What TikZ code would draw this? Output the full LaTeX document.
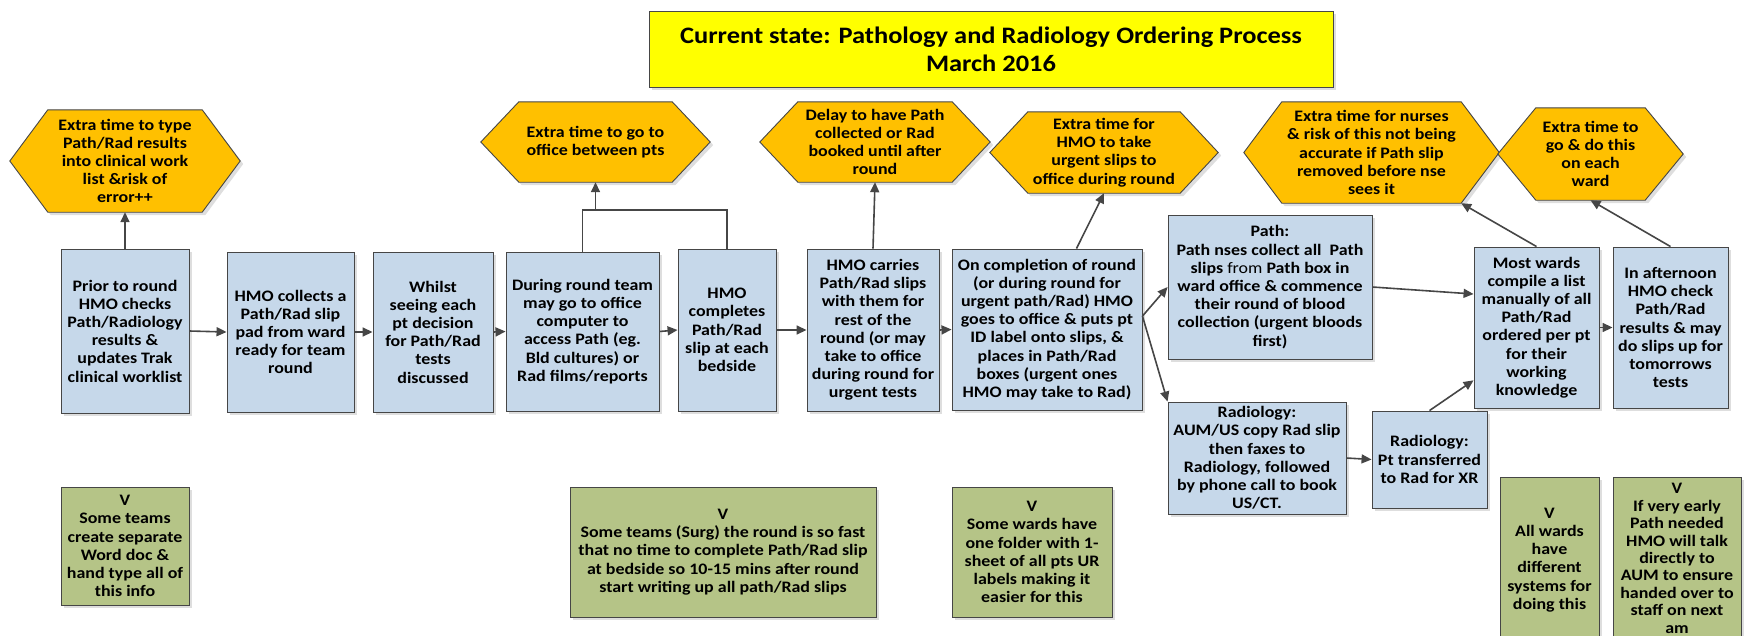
\documentclass[tikz,border=0pt]{standalone}
\usepackage{fontspec}
\setmainfont{Carlito}[FakeStretch=1.12]
\usetikzlibrary{arrows.meta, positioning, calc, shadows, backgrounds}
\definecolor{procblue}{RGB}{198,216,234}
\definecolor{hexorange}{RGB}{255,192,0}
\definecolor{noteolive}{RGB}{181,196,135}
\definecolor{titleyellow}{RGB}{255,255,0}
\definecolor{edgegray}{RGB}{70,70,70}
\tikzset{
    boxtext/.style={font=\fontsize{16}{18.2}\selectfont\bfseries, align=center, inner sep=2pt},
    softshadow/.style={drop shadow={shadow xshift=3pt, shadow yshift=-3pt, fill=black!13, opacity=1}},
    procbox/.style={boxtext, rectangle, draw=edgegray, line width=0.9pt, fill=procblue, softshadow},
    notebox/.style={procbox, fill=noteolive},
    hexbox/.style={boxtext, rectangle},
    hexline/.style={draw=edgegray, line width=0.9pt, fill=hexorange, softshadow},
    titlebox/.style={procbox, fill=titleyellow, font=\fontsize{23.6}{28}\selectfont\bfseries},
    flow/.style={-{Triangle[length=10pt, width=9pt]}, draw=edgegray, line width=1.6pt},
    joinline/.style={draw=edgegray, line width=1.6pt}
}

\begin{document}
\begin{tikzpicture}[x=1pt, y=-1pt]
    \useasboundingbox (0,0) rectangle (1746,635);
    \node[titlebox, minimum width=684, minimum height=76] (title) at (991,49)
        {Current state: Pathology and Radiology Ordering Process\\March 2016};

    % main process boxes
    \node[procbox, minimum width=128, minimum height=164] (b1) at (125,331)
        {Prior to round\\HMO checks\\Path/Radiology\\results \&\\updates Trak\\clinical worklist};
    \node[procbox, minimum width=127, minimum height=160] (b2) at (290.5,332)
        {HMO collects a\\Path/Rad slip\\pad from ward\\ready for team\\round};
    \node[procbox, minimum width=120, minimum height=160] (b3) at (433,332)
        {Whilst\\seeing each\\pt decision\\for Path/Rad\\tests\\discussed};
    \node[procbox, minimum width=153, minimum height=159] (b4) at (582.5,331.5)
        {During round team\\may go to office\\computer to\\access Path (eg.\\Bld cultures) or\\Rad films/reports};
    \node[procbox, minimum width=98, minimum height=162] (b5) at (727,330)
        {HMO\\completes\\Path/Rad\\slip at each\\bedside};
    \node[procbox, minimum width=132, minimum height=162] (b6) at (873,330)
        {HMO carries\\Path/Rad slips\\with them for\\rest of the\\round (or may\\take to office\\during round for\\urgent tests};
    \node[procbox, minimum width=190, minimum height=161] (b7) at (1047,329.5)
        {On completion of round\\(or during round for\\urgent path/Rad) HMO\\goes to office \& puts pt\\ID label onto slips, \&\\places in Path/Rad\\boxes (urgent ones\\HMO may take to Rad)};
    \node[procbox, minimum width=204, minimum height=144] (b8) at (1270,287)
        {Path:\\Path nses collect all~~Path\\slips {\mdseries from} Path box in\\ward office \& commence\\their round of blood\\collection (urgent bloods\\first)};
    \node[procbox, minimum width=178, minimum height=112] (b9) at (1257,458)
        {Radiology:\\AUM/US copy Rad slip\\then faxes to\\Radiology, followed\\by phone call to book\\US/CT.};
    \node[procbox, minimum width=115, minimum height=97] (b10) at (1429.5,459.5)
        {Radiology:\\Pt transferred\\to Rad for XR};
    \node[procbox, minimum width=125, minimum height=161] (b11) at (1536.5,327.5)
        {Most wards\\compile a list\\manually of all\\Path/Rad\\ordered per pt\\for their\\working\\knowledge};
    \node[procbox, minimum width=115, minimum height=161] (b12) at (1670.5,327.5)
        {In afternoon\\HMO check\\Path/Rad\\results \& may\\do slips up for\\tomorrows\\tests};

    % waste hexagons (node = flat part)
    \node[hexbox, minimum width=154, minimum height=102] (h1) at (125,161)
        {Extra time to type\\Path/Rad results\\into clinical work\\list \&risk of\\error++};
    \node[hexbox, minimum width=153, minimum height=80] (h2) at (595.5,142)
        {Extra time to go to\\office between pts};
    \node[hexbox, minimum width=154, minimum height=80] (h3) at (875,142)
        {Delay to have Path\\collected or Rad\\booked until after\\round};
    \node[hexbox, minimum width=152, minimum height=81] (h4) at (1104,152.5)
        {Extra time for\\HMO to take\\urgent slips to\\office during round};
    \node[hexbox, minimum width=179, minimum height=101] (h5) at (1371.5,152.5)
        {Extra time for nurses\\\& risk of this not being\\accurate if Path slip\\removed before nse\\sees it};
    \node[hexbox, minimum width=109, minimum height=92] (h6) at (1590.5,154)
        {Extra time to\\go \& do this\\on each\\ward};
    \begin{pgfonlayer}{background}
        \foreach \h in {h1,h2,h3,h4,h5,h6}
            \path[hexline] (\h.north west) -- (\h.north east) -- ($(\h.east)+(38,0)$)
                -- (\h.south east) -- (\h.south west) -- ($(\h.west)+(-38,0)$) -- cycle;
    \end{pgfonlayer}

    % variation notes
    \node[notebox, minimum width=128, minimum height=118] (g1) at (125,546)
        {V\\Some teams\\create separate\\Word doc \&\\hand type all of\\this info};
    \node[notebox, minimum width=306, minimum height=130] (g2) at (723,552)
        {V\\Some teams (Surg) the round is so fast\\that no time to complete Path/Rad slip\\at bedside so 10-15 mins after round\\start writing up all path/Rad slips};
    \node[notebox, minimum width=160, minimum height=130] (g3) at (1032,552)
        {V\\Some wards have\\one folder with 1-\\sheet of all pts UR\\labels making it\\easier for this};
    \node[notebox, minimum width=99, minimum height=166] (g4) at (1549.5,560)
        {V\\All wards\\have\\different\\systems for\\doing this};
    \node[notebox, font=\fontsize{16}{17.4}\selectfont\bfseries, inner ysep=0pt,
        minimum width=128, minimum height=162, anchor=north] (g5) at (1677,477)
        {V\\If very early\\Path needed\\HMO will talk\\directly to\\AUM to ensure\\handed over to\\staff on next\\am};

    % connectors
    \draw[flow] (b1.east) -- (b2.west);
    \draw[flow] (b2.east) -- (b3.west);
    \draw[flow] (b3.east) -- (b4.west);
    \draw[flow] (b4.east) -- (b5.west);
    \draw[flow] (b5.east) -- (b6.west);
    \draw[flow] (b6.east) -- (b7.west);
    \draw[flow] (b1.north) -- (h1.south);
    \coordinate (jn) at ($(h2.south)+(0,28)$);
    \draw[joinline] (b4.north) |- (jn);
    \draw[joinline] (b5.north) |- (jn);
    \draw[flow] (jn) -- (h2.south);
    \draw[flow] (b6.north) -- (h3.south);
    \draw[flow] (b7.70) -- (h4.south);
    \draw[flow] (b7.8) -- (b8.west);
    \draw[flow] (b7.8) -- (b9.north west);
    \draw[flow] (b8.east) -- (b11.152);
    \draw[flow] (b9.east) -- (b10.west);
    \draw[flow] (b10.north) -- (b11.220);
    \draw[flow] (b11.north) -- (h5.south east);
    \draw[flow] (b11.east) -- (b12.west);
    \draw[flow] (b12.north) -- (h6.south);
\end{tikzpicture}
\end{document}
